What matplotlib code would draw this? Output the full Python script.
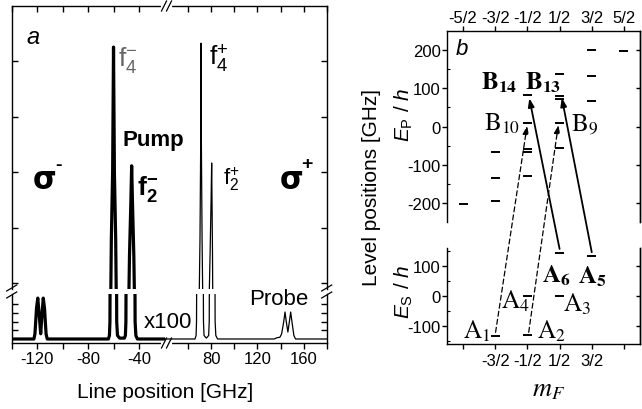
import matplotlib
matplotlib.use('Agg')
import matplotlib.pyplot as plt
from matplotlib.patches import ConnectionPatch
from matplotlib.lines import Line2D
import numpy as np

plt.rcParams['font.family'] = 'Liberation Sans'
plt.rcParams['axes.unicode_minus'] = False
plt.rcParams['mathtext.fontset'] = 'custom'
plt.rcParams['mathtext.rm'] = 'Liberation Sans'
plt.rcParams['mathtext.it'] = 'Liberation Sans:italic'
plt.rcParams['mathtext.bf'] = 'Liberation Sans:bold'
plt.rcParams['axes.linewidth'] = 1.0

W, H = 642, 410

# ---- (a) transmission spectrum ----
# sigma- side (pump lines), full scale
sm_x = [-140, -63.5, -62.4, -62.0, -61.0, -60.3, -59.6, -58.6, -58.2, -56.5,
        -49.5, -48.2, -47.8, -46.8, -46.1, -45.4, -44.4, -44.0, -42.5, -20]
sm_y = [0, 0, 0.9, 1.8, 3.0, 5.26, 3.0, 1.8, 0.9, 0,
        0, 0.9, 1.5, 2.4, 3.12, 2.4, 1.5, 0.9, 0, 0]
# sigma- side, x100
sm100_x = [-140, -122.6, -121.8, -120.6, -119.6, -118.6, -117.3, -116.2, -115.3,
           -114.3, -113.1, -112.2, -64.3, -63.5, -63.1, -63.0, -57.9, -57.8,
           -57.2, -55.5, -51.8, -51.0, -50.6, -50.5, -43.5, -43.4, -42.8, -41.6, -20]
sm100_y = [0, 0, 0.6, 3.5, 4.7, 3.0, 0.6, 3.0, 4.7,
           3.5, 0.6, 0, 0, 0.4, 2.0, 6.0, 6.0, 2.0,
           0.4, 0.1, 0.1, 0.4, 2.0, 6.0, 6.0, 2.0, 0.4, 0, 0]
# sigma+ side, full scale
sp_x = [40, 68.3, 69.7, 70.3, 70.9, 71.2, 71.5, 72.1, 72.6, 74.5,
        77.2, 78.4, 79.1, 79.9, 80.4, 80.7, 81.1, 81.3, 82.8, 180]
sp_y = [0, 0, 0.9, 1.8, 3.5, 5.33, 3.5, 1.8, 0.9, 0,
        0, 0.9, 1.6, 2.5, 3.17, 2.5, 1.6, 0.9, 0, 0]
# sigma+ side, x100 (pump wings + probe doublet)
sp100_x = [40, 66.0, 66.9, 67.3, 67.4, 73.2, 73.3, 73.8, 75.8, 77.8, 78.3, 78.4,
           83.3, 83.4, 84.0, 85.5, 134.5, 137.0, 139.5, 141.0, 142.8, 143.9,
           145.0, 146.4, 147.7, 148.8, 149.9, 151.6, 153, 180]
sp100_y = [0, 0, 0.4, 2.0, 6.0, 6.0, 2.0, 0.4, 0.1, 0.4, 2.0, 6.0,
           6.0, 2.0, 0.4, 0, 0, 0.15, 0.2, 0.6, 2.0, 3.1,
           2.0, 0.8, 2.0, 3.1, 2.0, 0.4, 0, 0]

ticks_m = [-140, -120, -100, -80, -60, -40]
labels_m = ['', '-120', '', '-80', '', '-40']
ticks_p = [60, 80, 100, 120, 140, 160, 180]
labels_p = ['', '80', '', '120', '', '160', '']

# ---- (b) level scheme ----
p_mf = [-2.5, -1.5, -1.5, -1.5, -0.5, -0.5, -0.5, -0.5, -0.5,
        0.5, 0.5, 0.5, 0.5, 0.5, 1.5, 1.5, 1.5, 2.5]
p_E = [-202, -66, -136, -196, 82, 9, -59, -66, -129,
       137, 79, 72, 8, -56, 201, 131, 68, 198]
s_mf = [-1.5, -0.5, -0.5, 0.5, 0.5, 1.5]
s_E = [-132, -129, 0, 142, 0, 132]

# transitions: start (ground), end (excited), solid = strong pump
tr_from = [(0.5, 157), (1.5, 146), (-1.49, -121), (-0.46, -121)]
tr_to = [(-0.44, 74), (0.57, 75), (-0.51, 2), (0.46, 4)]
tr_solid = [True, True, False, False]

mf_ticks = [-2.5, -1.5, -0.5, 0.5, 1.5, 2.5]
mf_top = ['-5/2', '-3/2', '-1/2', '1/2', '3/2', '5/2']
mf_bot = ['', '-3/2', '-1/2', '1/2', '3/2', '']

fig = plt.figure(figsize=(6.42, 4.10), dpi=100)


def box(x0, y0, x1, y1):
    return [x0 / W, 1 - y1 / H, (x1 - x0) / W, (y1 - y0) / H]


ax_ul = fig.add_axes(box(11.7, 7, 165, 290))
ax_ur = fig.add_axes(box(165, 7, 326.7, 290))
ax_ll = fig.add_axes(box(11.7, 295, 165, 344))
ax_lr = fig.add_axes(box(165, 295, 326.7, 344))

ax_ul.plot(sm_x, sm_y, color='k', lw=2.3)
ax_ll.plot(sm100_x, sm100_y, color='k', lw=2.3)
ax_ur.plot(sp_x, sp_y, color='k', lw=0.9)
ax_lr.plot(sp100_x, sp100_y, color='k', lw=0.9)

for ax in (ax_ul, ax_ur, ax_ll, ax_lr):
    ax.patch.set_visible(False)
for ax in (ax_ul, ax_ll):
    ax.set_xlim(-140, -20)
    ax.spines['right'].set_visible(False)
for ax in (ax_ur, ax_lr):
    ax.set_xlim(40, 180)
    ax.spines['left'].set_visible(False)
for ax in (ax_ul, ax_ur):
    ax.set_ylim(0.9, 6.0)
    ax.spines['bottom'].set_visible(False)
    ax.set_yticks([1, 2, 3, 4, 5])
for ax in (ax_ll, ax_lr):
    ax.set_ylim(-0.46, 5.17)
    ax.spines['top'].set_visible(False)
    ax.set_yticks([1, 2, 3, 4])

ax_ul.set_xticks(ticks_m)
ax_ll.set_xticks(ticks_m, labels_m)
ax_ur.set_xticks(ticks_p)
ax_lr.set_xticks(ticks_p, labels_p)

for ax in (ax_ul, ax_ur):
    ax.tick_params(axis='x', bottom=False, top=True, labelbottom=False,
                   direction='in', length=4, width=1)
for ax in (ax_ll, ax_lr):
    ax.tick_params(axis='x', bottom=True, top=False, direction='out',
                   length=4, width=1, labelsize=12, pad=2)
for ax in (ax_ul, ax_ll):
    ax.tick_params(axis='y', left=True, right=False, labelleft=False,
                   direction='in', length=4, width=1)
for ax in (ax_ur, ax_lr):
    ax.tick_params(axis='y', left=False, right=True, labelleft=False,
                   direction='in', length=4, width=1)

# break marks
def slash(x0, y0, x1, y1, **kw):
    fig.add_artist(Line2D([x0 / W, x1 / W], [1 - y0 / H, 1 - y1 / H],
                          transform=fig.transFigure, color='k', lw=0.9, **kw))


for yb in (7, 344):
    fig.add_artist(Line2D([163 / W, 170 / W], [1 - yb / H, 1 - yb / H],
                          transform=fig.transFigure, color='w', lw=3, zorder=5))
    slash(161.5, yb + 5, 166.5, yb - 5, zorder=6)
    slash(166.5, yb + 5, 171.5, yb - 5, zorder=6)
for xb in (11.7, 326.7):
    slash(xb - 5, 292, xb + 5, 286, zorder=6)
    slash(xb - 5, 299, xb + 5, 293, zorder=6)

ax_ul.text(-123.3, 5.45, 'a', fontsize=17, style='italic', ha='center', va='center')
ax_ul.text(-56.8, 5.04, r'$\mathrm{f}_4^{-}$', fontsize=19, color='#666666',
           ha='left', va='center')
ax_ul.text(-41.9, 2.72, r'$\mathbf{f}_\mathbf{2}^\mathbf{-}$', fontsize=19,
           ha='left', va='center')
ax_ul.text(-29.4, 3.60, 'Pump', fontsize=16, fontweight='bold',
           ha='center', va='center', zorder=10)
ax_ul.text(-114.5, 2.88, 'σ', fontsize=22, fontweight='bold', family='DejaVu Sans',
           ha='center', va='center')
ax_ul.text(-103.0, 3.14, '-', fontsize=14, fontweight='bold', ha='center', va='center')
ax_ur.text(78.1, 5.06, r'$\mathrm{f}_4^{+}$', fontsize=19, ha='left', va='center')
ax_ur.text(90.2, 2.90, r'$\mathrm{f}_2^{+}$', fontsize=16, ha='left', va='center')
ax_ur.text(149.3, 2.88, 'σ', fontsize=22, fontweight='bold', family='DejaVu Sans',
           ha='center', va='center')
ax_ur.text(163.0, 3.16, '+', fontsize=14, fontweight='bold', ha='center', va='center')
ax_lr.text(138.3, 4.71, 'Probe', fontsize=16, ha='center', va='center')
fig.text(168 / W, 1 - 323 / H, 'x100', fontsize=16, ha='center', va='center')
fig.text(165 / W, 1 - 393 / H, 'Line position [GHz]', fontsize=15,
         ha='center', va='center')

# ---- panel b ----
bu = fig.add_axes(box(447, 32, 640, 223))
bl = fig.add_axes(box(447, 249, 640, 345))

bu.hlines(p_E, np.array(p_mf) - 0.14, np.array(p_mf) + 0.14, color='k', lw=1.4)
bl.hlines(s_E, np.array(s_mf) - 0.14, np.array(s_mf) + 0.14, color='k', lw=1.4)

for ax in (bu, bl):
    ax.patch.set_visible(False)
    ax.set_xlim(-3, 3)
    ax.set_xticks(mf_ticks)
    ax.tick_params(axis='y', which='major', direction='out', length=3.5,
                   width=1, labelsize=12, pad=1)
    ax.tick_params(axis='y', which='minor', direction='in', length=2.5, width=0.8)
    sec = ax.secondary_yaxis('right')
    sec.tick_params(axis='y', direction='in', length=3, width=1)
    sec.set_yticklabels([])

bu.set_ylim(-250, 250)
bu.set_yticks([-200, -100, 0, 100, 200])
bu.set_yticks([-150, -50, 50, 150], minor=True)
bu.spines['bottom'].set_visible(False)
bu.xaxis.tick_top()
bu.set_xticklabels(mf_top)
bu.tick_params(axis='x', direction='out', length=3.5, width=1, labelsize=12, pad=1)

bl.set_ylim(-160, 160)
bl.set_yticks([-100, 0, 100])
bl.set_yticks([-150, -50, 50, 150], minor=True)
bl.spines['top'].set_visible(False)
bl.set_xticklabels(mf_bot)
bl.tick_params(axis='x', direction='out', length=3.5, width=1, labelsize=12, pad=3)

for (a, b, solid) in zip(tr_from, tr_to, tr_solid):
    con = ConnectionPatch(xyA=a, coordsA=bl.transData, xyB=b, coordsB=bu.transData,
                          arrowstyle='-|>,head_length=0.5,head_width=0.18',
                          shrinkA=0, shrinkB=0, mutation_scale=10,
                          lw=1.3 if solid else 0.9,
                          linestyle='-' if solid else (0, (4, 2.5)), color='k')
    fig.add_artist(con)

bu.text(-2.53, 205, 'b', fontsize=16, style='italic', ha='center', va='center')
serif = dict(math_fontfamily='stix', fontsize=18, ha='center', va='center')
bu.text(-1.38, 118, r'$\mathbf{B}_{\mathbf{14}}$', **serif)
bu.text(-0.03, 118, r'$\mathbf{B}_{\mathbf{13}}$', **serif)
bu.text(-1.29, 10, r'$\mathrm{B}_{10}$', **serif)
bu.text(1.29, 10, r'$\mathrm{B}_{9}$', **serif)
bl.text(0.39, 72, r'$\mathbf{A}_{\mathbf{6}}$', **serif)
bl.text(1.52, 68, r'$\mathbf{A}_{\mathbf{5}}$', **serif)
bl.text(-0.87, -14, r'$\mathrm{A}_{4}$', **serif)
bl.text(1.04, -26, r'$\mathrm{A}_{3}$', **serif)
bl.text(-2.08, -116, r'$\mathrm{A}_{1}$', **serif)
bl.text(0.26, -116, r'$\mathrm{A}_{2}$', **serif)

fig.text(372 / W, 1 - 188 / H, 'Level positions [GHz]', rotation=90,
         fontsize=15, ha='center', va='center')
fig.text(404 / W, 1 - 115 / H, r'$E_\mathrm{P}$ / $h$', rotation=90,
         fontsize=15, ha='center', va='center')
fig.text(404 / W, 1 - 292 / H, r'$E_\mathrm{S}$ / $h$', rotation=90,
         fontsize=15, ha='center', va='center')
fig.text(548 / W, 1 - 390 / H, r'$m_F$', math_fontfamily='stix', fontsize=19,
         ha='center', va='center')

fig.savefig('out.png', dpi=100)
